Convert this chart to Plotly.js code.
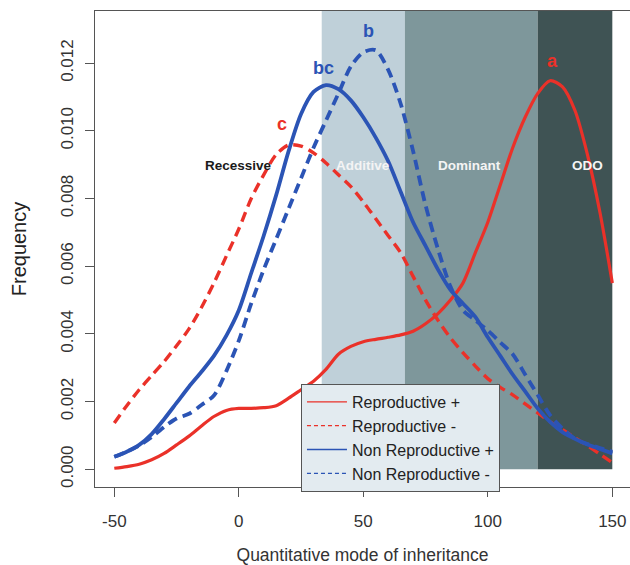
<!DOCTYPE html>
<html>
<head>
<meta charset="utf-8">
<script src="https://cdn.plot.ly/plotly-3.0.1.min.js"></script>
<style>
html,body{margin:0;padding:0;background:#fff;overflow:hidden;}
#chart{width:630px;height:565px;}
</style>
</head>
<body>
<div id="chart"></div>
<script>
// ---- data ----
var xValues = [-50,-45,-40,-35,-30,-25,-20,-15,-10,-5,0,5,10,15,20,25,30,35,40,45,50,55,60,65,70,75,80,85,90,95,100,105,110,115,120,125,130,135,140,145,150];

var reproPlus = [0.00003,0.00008,0.00015,0.00028,0.00047,0.00072,0.00098,0.00128,0.00156,0.00174,0.0018,0.0018,0.00182,0.00188,0.0021,0.00235,0.0026,0.00295,0.0034,0.00363,0.00377,0.00384,0.0039,0.00397,0.00408,0.0043,0.0046,0.0050,0.0055,0.0064,0.0073,0.0084,0.0095,0.0104,0.0111,0.01148,0.0113,0.0106,0.0093,0.0076,0.0055];

var reproMinus = [0.00137,0.00188,0.00235,0.00277,0.00318,0.00365,0.00415,0.00478,0.0055,0.0063,0.0071,0.0080,0.0087,0.0093,0.00958,0.00955,0.00935,0.00905,0.0087,0.00835,0.0079,0.0074,0.0069,0.0064,0.0057,0.0050,0.0044,0.00388,0.00345,0.00305,0.00268,0.00242,0.0022,0.00193,0.00167,0.0014,0.00117,0.00093,0.0007,0.00045,0.0002];

var nonReproPlus = [0.00037,0.00052,0.00072,0.00104,0.00148,0.00196,0.00244,0.00288,0.00335,0.00395,0.0047,0.0058,0.0069,0.0081,0.0094,0.0105,0.01115,0.01135,0.01123,0.0109,0.0104,0.0098,0.0091,0.0082,0.0073,0.0066,0.0059,0.0053,0.0049,0.0045,0.0039,0.00335,0.0028,0.0023,0.0018,0.0014,0.0011,0.0009,0.00073,0.0006,0.00047];

var nonReproMinus = [0.00037,0.00052,0.0007,0.00095,0.00125,0.0015,0.00164,0.0019,0.00218,0.0029,0.0038,0.0049,0.0059,0.0068,0.0077,0.0086,0.0095,0.0103,0.0111,0.0119,0.01232,0.01238,0.0118,0.0108,0.0094,0.0078,0.0065,0.0054,0.0047,0.0044,0.0041,0.00375,0.0034,0.0028,0.0022,0.0016,0.0012,0.0009,0.00075,0.00063,0.00052];

var seriesNames = ["Reproductive +","Reproductive -","Non Reproductive +","Non Reproductive -"];

var regionNames = ["Recessive","Additive","Dominant","ODO"];
var regionStart = [0, 33.3, 66.7, 120];
var regionEnd   = [33.3, 66.7, 120, 150];

var xTickVals = [-50,0,50,100,150];
var xTickText = ["-50","0","50","100","150"];
var yTickVals = [0,0.002,0.004,0.006,0.008,0.010,0.012];

var groupLetters = ["a","c","bc","b"];

// ---- styling ----
var RED = "#ea3129", BLUE = "#2b54b5";
var regionFill = ["rgba(0,0,0,0)","#bfd0d9","#7e979b","#3f5354"];
var regionTextColor = ["#1a1a1a","#f4f4f4","#f4f4f4","#f4f4f4"];
var regionLabelX = [0, 50, 92.7, 140];
var letterPos = [[125.9,0.01206,RED],[17.5,0.0102,RED],[34.2,0.01185,BLUE],[52.2,0.01296,BLUE]];

var series = [reproPlus, reproMinus, nonReproPlus, nonReproMinus];
var colors = [RED, RED, BLUE, BLUE];
var dashes = ["solid","10px,6px","solid","10px,6px"];
var widths = [3.2, 3.4, 3.8, 3.8];

var traces = [];
for (var i = 0; i < series.length; i++) {
  traces.push({
    type: "scatter", mode: "lines", x: xValues, y: series[i],
    name: seriesNames[i], showlegend: false, hoverinfo: "skip",
    line: {color: colors[i], width: widths[i], dash: dashes[i], shape: "spline", smoothing: 0.8}
  });
}
var legendDash = ["solid","4px,3px","solid","4px,3px"];
for (var j = 0; j < series.length; j++) {
  traces.push({
    type: "scatter", mode: "lines", x: [null], y: [null],
    name: seriesNames[j], showlegend: true,
    line: {color: colors[j], width: 1.3, dash: legendDash[j]}
  });
}

var shapes = [];
for (var k = 1; k < regionNames.length; k++) {
  shapes.push({type: "rect", xref: "x", yref: "y", x0: regionStart[k], x1: regionEnd[k], y0: 0, y1: 1,
    fillcolor: regionFill[k], line: {width: 0}, layer: "below"});
}

var annotations = [];
for (var m = 0; m < regionNames.length; m++) {
  annotations.push({x: regionLabelX[m], y: 0.00897, xref: "x", yref: "y", text: "<b>" + regionNames[m] + "</b>",
    showarrow: false, font: {family: "Liberation Sans, Arial, sans-serif", size: 13.5, color: regionTextColor[m]}});
}
for (var n = 0; n < groupLetters.length; n++) {
  annotations.push({x: letterPos[n][0], y: letterPos[n][1], xref: "x", yref: "y", text: "<b>" + groupLetters[n] + "</b>",
    showarrow: false, font: {family: "Liberation Sans, Arial, sans-serif", size: 18, color: letterPos[n][2]}});
}

var layout = {
  width: 630, height: 565,
  margin: {l: 95, r: 0, t: 11, b: 78},
  paper_bgcolor: "#fff", plot_bgcolor: "#fff",
  font: {family: "Liberation Sans, Arial, sans-serif", color: "#333"},
  xaxis: {
    range: [-57.75, 157.1], tickvals: xTickVals, ticktext: xTickText, ticks: "outside", ticklen: 9, tickcolor: "#555",
    ticklabelstandoff: 10,
    showline: true, linecolor: "#555", linewidth: 1, mirror: true, showgrid: false, zeroline: false,
    tickfont: {size: 17, color: "#333"},
    title: {text: "Quantitative mode of inheritance", font: {size: 17.5, color: "#333"}, standoff: 18}
  },
  yaxis: {
    range: [-0.000523, 0.01354], tickvals: yTickVals, tickformat: ".3f", tickangle: -90,
    ticks: "outside", ticklen: 9, tickcolor: "#555", ticklabelstandoff: 5,
    showline: true, linecolor: "#555", linewidth: 1, showgrid: false, zeroline: false,
    tickfont: {size: 17, color: "#333"},
    title: {text: "Frequency", font: {size: 20, color: "#222"}, standoff: 26}
  },
  legend: {
    x: 0.385, y: 0.2164, xanchor: "left", yanchor: "top",
    bgcolor: "#e3ebf0", bordercolor: "#555", borderwidth: 1,
    font: {size: 16, color: "#222"}, itemwidth: 40, tracegroupgap: 0
  },
  shapes: shapes,
  annotations: annotations
};

Plotly.newPlot("chart", traces, layout, {displayModeBar: false, staticPlot: true});
</script>
</body>
</html>
